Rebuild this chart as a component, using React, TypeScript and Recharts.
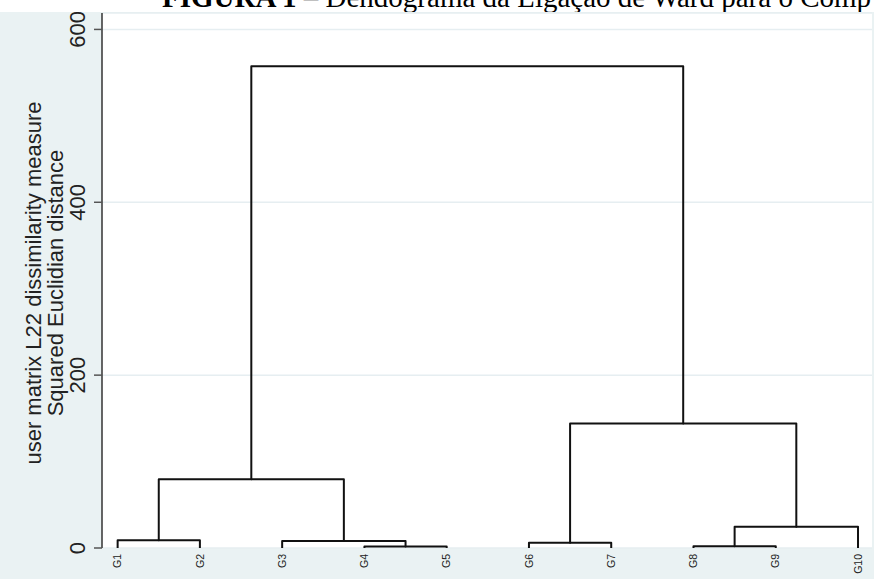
import React from 'react';
import { ComposedChart, Line, XAxis, YAxis, CartesianGrid } from 'recharts';

const leaves = ['G1', 'G2', 'G3', 'G4', 'G5', 'G6', 'G7', 'G8', 'G9', 'G10'];

// merges: [left node, right node, height]; nodes 0-9 are leaves, 10+ are the merges in order
const merges: [number, number, number][] = [
  [3, 4, 1.8], // 10: G4+G5
  [7, 8, 2.1], // 11: G8+G9
  [5, 6, 6.0], // 12: G6+G7
  [2, 10, 8.0], // 13: G3+(G4,G5)
  [0, 1, 9.0], // 14: G1+G2
  [11, 9, 24.5], // 15: (G8,G9)+G10
  [14, 13, 79.5], // 16
  [12, 15, 144], // 17
  [16, 17, 557.5], // 18
];

const yTicks = [0, 200, 400, 600];

const titleBold = 'FIGURA 1';
const titleRest = ' – Dendograma da Ligação de Ward para o Comp';
const yLabel1 = 'user matrix L22 dissimilarity measure';
const yLabel2 = 'Squared Euclidian distance';

const sans = '"Liberation Sans", Arial, sans-serif';

// build the U-shaped links from the merge list
const nodes: { x: number; h: number }[] = leaves.map((_, i) => ({ x: i, h: 0 }));
const links = merges.map(([l, r, h]) => {
  const a = nodes[l];
  const b = nodes[r];
  nodes.push({ x: (a.x + b.x) / 2, h });
  return [
    { x: a.x, y: a.h },
    { x: a.x, y: h },
    { x: b.x, y: h },
    { x: b.x, y: b.h },
  ];
});

const YTick = (props: any) => {
  const { y, payload } = props;
  return (
    <text x={85} y={y} transform={`rotate(-90 85 ${y})`} textAnchor="middle" fontSize={22} fontFamily={sans} fill="#222">
      {payload.value}
    </text>
  );
};

const XTick = (props: any) => {
  const { x, y, payload } = props;
  const bx = x + 3.7;
  return (
    <text x={bx} y={y} transform={`rotate(-90 ${bx} ${y})`} textAnchor="end" fontSize={10.5} fontFamily={sans} fill="#222">
      {leaves[payload.value]}
    </text>
  );
};

export default function App() {
  return (
    <div style={{ position: 'absolute', left: 0, top: 0, width: 874, height: 579, background: '#fff', overflow: 'hidden' }}>
      <svg width={874} height={20} style={{ position: 'absolute', left: 0, top: 0 }}>
        <text x={162} y={7} fontSize={29} fontFamily='"Liberation Serif", "Times New Roman", serif' fill="#000">
          <tspan fontWeight="bold">{titleBold}</tspan>
          {titleRest}
        </text>
      </svg>
      <div style={{ position: 'absolute', left: 0, top: 12, width: 874, height: 567, background: '#eaf2f3' }}>
        <ComposedChart width={874} height={567} margin={{ top: 1, right: 2, left: 0, bottom: 0 }}>
          <CartesianGrid vertical={false} fill="#fff" stroke="#e6eef1" strokeWidth={1.5} />
          <XAxis
            type="number"
            dataKey="x"
            domain={[-0.19, 9.17]}
            ticks={leaves.map((_, i) => i)}
            allowDataOverflow
            axisLine={false}
            tickLine={false}
            tickSize={0}
            tickMargin={6}
            height={31}
            tick={<XTick />}
            interval={0}
          />
          <YAxis
            type="number"
            domain={[0, 619]}
            ticks={yTicks}
            allowDataOverflow
            width={102}
            axisLine={{ stroke: '#333', strokeWidth: 1.5 }}
            tickLine={{ stroke: '#555', strokeWidth: 1.5 }}
            tickSize={8}
            tickMargin={2}
            tick={<YTick />}
            interval={0}
          />
          {links.map((pts, i) => (
            <Line
              key={i}
              data={pts}
              dataKey="y"
              type="linear"
              stroke="#111"
              strokeWidth={2}
              strokeLinejoin="round"
              strokeLinecap="round"
              dot={false}
              activeDot={false}
              isAnimationActive={false}
            />
          ))}
        </ComposedChart>
      </div>
      <svg width={100} height={579} style={{ position: 'absolute', left: 0, top: 0, pointerEvents: 'none' }}>
        <text x={41} y={283} transform="rotate(-90 41 283)" textAnchor="middle" fontSize={22} fontFamily={sans} fill="#222">
          {yLabel1}
        </text>
        <text x={63} y={283} transform="rotate(-90 63 283)" textAnchor="middle" fontSize={22} fontFamily={sans} fill="#222">
          {yLabel2}
        </text>
      </svg>
    </div>
  );
}
